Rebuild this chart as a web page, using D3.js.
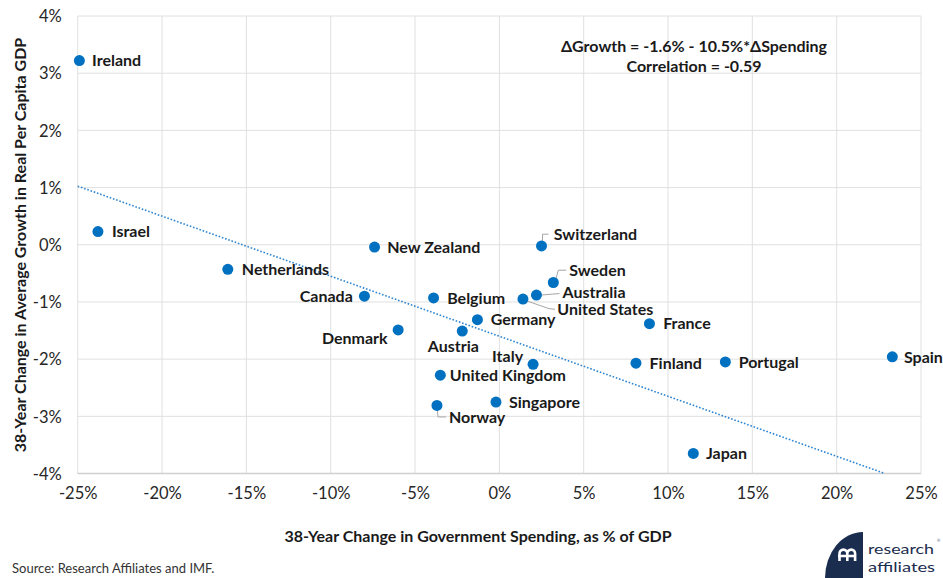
<!DOCTYPE html>
<html>
<head>
<meta charset="utf-8">
<script src="https://cdn.jsdelivr.net/npm/d3@7"></script>
<style>
  html, body { margin: 0; padding: 0; background: #fff; }
  svg { display: block; }
  text { font-family: Lato, "Open Sans", sans-serif; }
</style>
</head>
<body>
<script>
// ---- Data ----
const countries = ["Ireland","Israel","Netherlands","New Zealand","Canada","Denmark","Belgium","Germany","Austria","United States","Australia","Sweden","Switzerland","Italy","United Kingdom","Singapore","Norway","France","Finland","Portugal","Spain","Japan"];
const spending = [-24.9,-23.8,-16.1,-7.4,-8.0,-6.0,-3.9,-1.3,-2.2,1.4,2.2,3.2,2.5,2.0,-3.5,-0.2,-3.7,8.9,8.1,13.4,23.3,11.5];
const growth   = [3.22,0.23,-0.43,-0.04,-0.90,-1.49,-0.93,-1.31,-1.51,-0.95,-0.88,-0.66,-0.02,-2.09,-2.28,-2.75,-2.81,-1.38,-2.07,-2.05,-1.96,-3.65];
const xTicks = [-25,-20,-15,-10,-5,0,5,10,15,20,25];
const yTicks = [-4,-3,-2,-1,0,1,2,3,4];
const trendIntercept = -1.6;   // %
const trendSlope = -0.105;     // per % of spending
const equationText = "\u0394Growth = -1.6% - 10.5%*\u0394Spending";
const correlationText = "Correlation = -0.59";
const xTitle = "38-Year Change in Government Spending, as % of GDP";
const yTitle = "38-Year Change in Average Growth in Real Per Capita GDP";
const sourceText = "Source: Research Affiliates and IMF.";

// ---- Label placement (layout only) ----
const labelLayout = {
  "Ireland":[12.7,0,"start"], "Israel":[14,0,"start"], "Netherlands":[14,0,"start"],
  "New Zealand":[12.7,0,"start"], "Canada":[-11.6,0,"end"], "Denmark":[-10.6,8.6,"end"],
  "Belgium":[13.6,0,"start"], "Germany":[13.3,0,"start"], "Austria":[-8.9,15.3,"middle"],
  "United States":[34.4,10.6,"start"], "Australia":[26,-2.6,"start"], "Sweden":[16,-12.3,"start"],
  "Switzerland":[12.3,-11.7,"start"], "Italy":[-10,-8,"end"], "United Kingdom":[9.5,0,"start"],
  "Singapore":[13,0,"start"], "Norway":[12,12,"start"], "France":[13.7,0,"start"],
  "Finland":[13.6,0,"start"], "Portugal":[13.3,0,"start"], "Spain":[11.6,0,"start"], "Japan":[12.7,0,"start"]
};
const leaders = {
  "Switzerland":[[1,-5],[1,-11.7],[7,-11.7]],
  "Sweden":[[2.7,-4],[5,-12.3],[13,-12.3]],
  "Australia":[[4.5,0],[23,-1.5]],
  "United States":[[4.3,2],[26,9.5],[32,10.3]],
  "Norway":[[0.5,5],[1,11.5],[9,11.5]]
};

const W = 943, H = 578;
const plot = {left: 77.7, right: 921, top: 16, bottom: 473.5};

const svg = d3.select("body").append("svg").attr("width", W).attr("height", H);

const x = d3.scaleLinear().domain([-25,25]).range([plot.left, plot.right]);
const y = d3.scaleLinear().domain([-4,4]).range([plot.bottom, plot.top]);

// gridlines
svg.append("g").selectAll("line").data(xTicks).join("line")
  .attr("x1", d => x(d)).attr("x2", d => x(d))
  .attr("y1", plot.top).attr("y2", plot.bottom)
  .attr("stroke", "#e0e0e0").attr("stroke-width", 1);
svg.append("g").selectAll("line").data(yTicks).join("line")
  .attr("x1", plot.left).attr("x2", plot.right)
  .attr("y1", d => y(d)).attr("y2", d => y(d))
  .attr("stroke", "#e0e0e0").attr("stroke-width", 1);
// bottom axis line
svg.append("line").attr("x1", plot.left).attr("x2", plot.right)
  .attr("y1", plot.bottom).attr("y2", plot.bottom)
  .attr("stroke", "#d0d0d0").attr("stroke-width", 1.5);

// axes (labels only)
const fmt = d => d + "%";
const xAxis = svg.append("g").attr("transform", `translate(0,${plot.bottom})`)
  .call(d3.axisBottom(x).tickValues(xTicks).tickFormat(fmt).tickSize(0).tickPadding(14));
const yAxis = svg.append("g").attr("transform", `translate(${plot.left},0)`)
  .call(d3.axisLeft(y).tickValues(yTicks).tickFormat(fmt).tickSize(0).tickPadding(16));
[xAxis, yAxis].forEach(a => {
  a.select(".domain").remove();
  a.selectAll("text").attr("font-family", "Lato, 'Open Sans', sans-serif")
    .attr("font-size", 16.5).attr("fill", "#262626");
});
yAxis.selectAll("text").attr("dy", "0.35em");

// trend line: from x=-25 until it exits at y=-4
const xEnd = (-4 - trendIntercept) / trendSlope;
const trendPts = [-25, xEnd].map(v => [v, trendIntercept + trendSlope * v]);
svg.append("path")
  .attr("d", d3.line().x(d => x(d[0])).y(d => y(d[1]))(trendPts))
  .attr("fill", "none").attr("stroke", "#2f86d0").attr("stroke-width", 1.6)
  .attr("stroke-dasharray", "1.6,1.8");

const pts = countries.map((c, i) => ({c, sx: spending[i], gy: growth[i]}));

// leader lines
svg.append("g").selectAll("polyline").data(pts.filter(p => leaders[p.c])).join("polyline")
  .attr("points", p => leaders[p.c].map(o => [x(p.sx) + o[0], y(p.gy) + o[1]].join(",")).join(" "))
  .attr("fill", "none").attr("stroke", "#a6a6a6").attr("stroke-width", 1);

// dots
svg.append("g").selectAll("circle").data(pts).join("circle")
  .attr("cx", p => x(p.sx)).attr("cy", p => y(p.gy)).attr("r", 5.5)
  .attr("fill", "#0070c0");

// labels
svg.append("g").selectAll("text").data(pts).join("text")
  .attr("x", p => x(p.sx) + labelLayout[p.c][0])
  .attr("y", p => y(p.gy) + labelLayout[p.c][1])
  .attr("dy", "0.36em")
  .attr("text-anchor", p => labelLayout[p.c][2])
  .attr("font-size", 16).attr("font-weight", 700).attr("fill", "#1a1a1a")
  .text(p => p.c);

// annotation
svg.append("text").attr("x", 694).attr("y", 46).attr("dy", "0.36em")
  .attr("text-anchor", "middle").attr("font-size", 16).attr("font-weight", 700).attr("fill", "#1a1a1a")
  .text(equationText);
svg.append("text").attr("x", 694).attr("y", 66).attr("dy", "0.36em")
  .attr("text-anchor", "middle").attr("font-size", 16).attr("font-weight", 700).attr("fill", "#1a1a1a")
  .text(correlationText);

// axis titles
svg.append("text").attr("x", 478).attr("y", 536).attr("dy", "0.36em")
  .attr("text-anchor", "middle").attr("font-size", 16).attr("font-weight", 700).attr("fill", "#1a1a1a")
  .text(xTitle);
svg.append("text").attr("transform", "translate(20.5,245) rotate(-90)").attr("dy", "0.36em")
  .attr("text-anchor", "middle").attr("font-size", 16).attr("font-weight", 700).attr("fill", "#1a1a1a")
  .text(yTitle);

// source
svg.append("text").attr("x", 12).attr("y", 573)
  .attr("font-size", 13).attr("fill", "#333").text(sourceText);

// logo
const logo = svg.append("g");
logo.append("path").attr("d", "M863,532 A38,46 0 0 0 825,578 L863,578 Z").attr("fill", "#1b2d4f");
logo.append("path")
  .attr("d", "M839.5,561 V553.5 A3.9,3.9 0 0 1 847.3,553.5 V561 M847.3,553.5 A3.9,3.9 0 0 1 855.1,553.5 V561 M838,556 H856")
  .attr("fill", "none").attr("stroke", "#fff").attr("stroke-width", 2.6);
logo.append("text").attr("x", 868).attr("y", 554).attr("font-family", "'Open Sans', sans-serif")
  .attr("font-size", 14).attr("fill", "#1b2d4f")
  .attr("textLength", 66).attr("lengthAdjust", "spacingAndGlyphs").text("research");
logo.append("text").attr("x", 868).attr("y", 572).attr("font-family", "'Open Sans', sans-serif")
  .attr("font-size", 14).attr("fill", "#1b2d4f")
  .attr("textLength", 67).attr("lengthAdjust", "spacingAndGlyphs").text("affiliates");
logo.append("text").attr("x", 937).attr("y", 542).attr("font-family", "'Open Sans', sans-serif")
  .attr("font-size", 4).attr("fill", "#1b2d4f").text("\u00AE");
</script>
</body>
</html>
